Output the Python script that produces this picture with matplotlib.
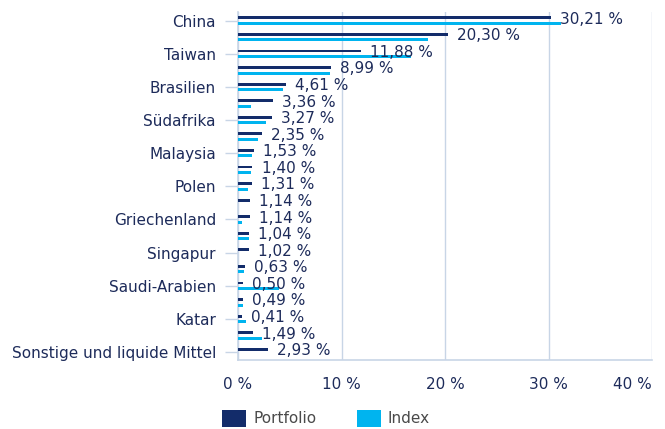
import matplotlib
matplotlib.use("Agg")
import matplotlib.pyplot as plt
import numpy as np
from matplotlib.patches import Patch

categories = ["China", "Indien", "Taiwan", "Südkorea", "Brasilien", "Mexiko",
              "Südafrika", "Indonesien", "Malaysia", "Thailand", "Polen", "Kasachstan",
              "Griechenland", "Türkei", "Singapur", "Philippinen", "Saudi-Arabien",
              "Chile", "Katar", "Vereinigte Arabische Emirate", "Sonstige und liquide Mittel"]
portfolio = [30.21, 20.30, 11.88, 8.99, 4.61, 3.36, 3.27, 2.35, 1.53, 1.40, 1.31,
             1.14, 1.14, 1.04, 1.02, 0.63, 0.50, 0.49, 0.41, 1.49, 2.93]
index = [31.2, 18.4, 16.7, 8.9, 4.3, 1.3, 2.7, 1.9, 1.35, 1.25, 1.0,
         0.0, 0.4, 1.05, 0.0, 0.6, 4.0, 0.5, 0.8, 2.3, 0.0]
xticks = [0, 10, 20, 30, 40]

NAVY = "#132c6a"
CYAN = "#00b4ef"
TXT = "#1d2b5a"
GRID = "#c8d5e6"

plt.rcParams['font.family'] = ['DejaVu Sans']
fig = plt.figure(figsize=(6.65, 4.29), dpi=100)
ax = fig.add_axes([238/665, 1 - 360.3/429, (652 - 238)/665, (360.3 - 12.3)/429])

y = np.arange(len(categories))
h = 0.18
ax.barh(y - 0.165, portfolio, height=h, color=NAVY, zorder=3)
ax.barh(y + 0.165, index, height=h, color=CYAN, zorder=3)

for yi, v in zip(y, portfolio):
    ax.annotate(f"{v:.2f} %".replace('.', ','), xy=(v, yi - 0.08), xytext=(6.5, 0),
                textcoords='offset points', va='center', ha='left', fontsize=11,
                color=TXT, zorder=4)

ax.set_xlim(0, 40)
ax.set_ylim(len(categories) - 0.5, -0.5)
ax.set_xticks(xticks)
ax.set_xticklabels([f"{t} %" for t in xticks])
ax.get_xticklabels()[-1].set_horizontalalignment('right')
ax.set_yticks(y[::2])
ax.set_yticklabels(categories[::2])
ax.tick_params(axis='x', length=0, pad=12, labelsize=11, labelcolor=TXT)
ax.tick_params(axis='y', length=9.4, width=1, color=GRID, pad=6.5, labelsize=11, labelcolor=TXT)
ax.grid(axis='x', color=GRID, linewidth=1, zorder=0)
for s in ['top', 'right']:
    ax.spines[s].set_visible(False)
ax.spines['left'].set_color(GRID)
ax.spines['bottom'].set_color(GRID)
ax.spines['left'].set_linewidth(1.2)
ax.spines['bottom'].set_linewidth(1.2)

handles = [Patch(facecolor=NAVY, label="Portfolio"), Patch(facecolor=CYAN, label="Index")]
fig.legend(handles=handles, loc='upper left', bbox_to_anchor=(222/665, 1 - 410/429),
           ncol=2, frameon=False, fontsize=11, handlelength=1.57, handleheight=1.3,
           handletextpad=0.46, columnspacing=2.65, borderpad=0, borderaxespad=0,
           labelcolor="#4a4a4a")

fig.savefig("out.png", dpi=100)
